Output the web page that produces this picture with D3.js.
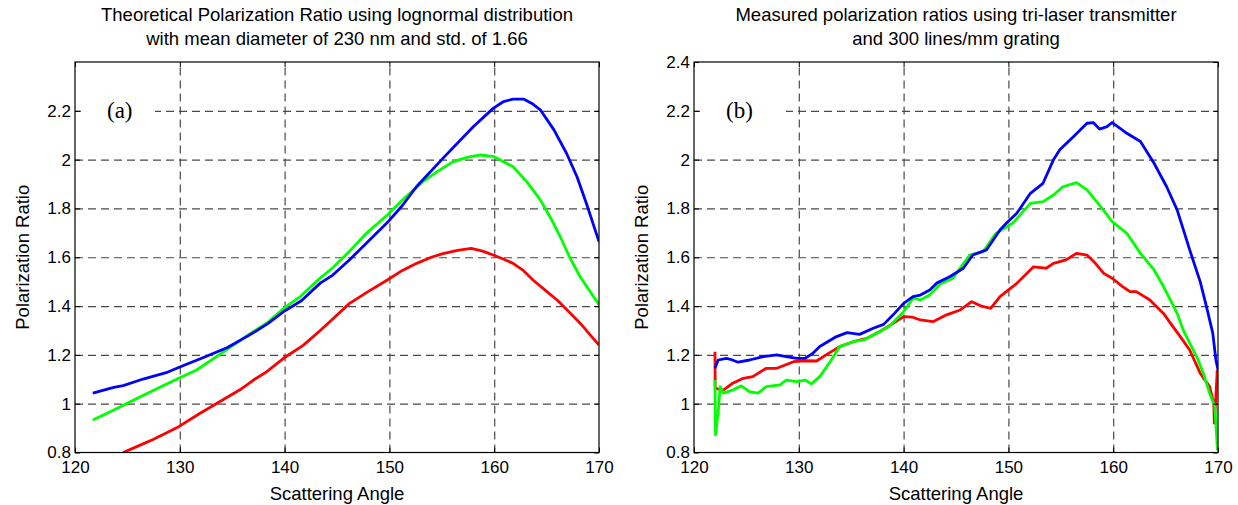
<!DOCTYPE html>
<html>
<head>
  <meta charset="utf-8">
  <style>
    body { margin: 0; background: #fff; }
    svg { display: block; font-family: "Liberation Sans", Arial, sans-serif; }
    .grid line { stroke: #4a4a4a; stroke-width: 1.2; stroke-dasharray: 8,5; }
    .grid path { display: none; }
    .ax path { display: none; }
    .ax line { stroke: #000; stroke-width: 1; }
    .ax text { font-size: 17px; fill: #000; }
  </style>
</head>
<body>
  <div id="chart"></div>
  <script src="https://d3js.org/d3.v7.min.js"></script>
  <script>
    // tick values
    var angleTicks = [120, 130, 140, 150, 160, 170];
    var ratioTicksA = [0.8, 1, 1.2, 1.4, 1.6, 1.8, 2, 2.2];
    var ratioTicksB = [0.8, 1, 1.2, 1.4, 1.6, 1.8, 2, 2.2, 2.4];

    // (a) theoretical curves [angle, ratio]
    var theoryBlue = [[121.7,1.043],[123.7,1.067],[124.6,1.074],[126.5,1.101],[128.7,1.127],[130,1.15],[132.2,1.188],[134.5,1.229],[136.8,1.285],[138.4,1.328],[140,1.38],[141.6,1.422],[143.4,1.494],[144.6,1.527],[146.2,1.59],[147.8,1.657],[149.8,1.742],[151.2,1.81],[152.6,1.89],[155.1,2.005],[158,2.135],[159.9,2.21],[160.9,2.238],[161.8,2.248],[162.8,2.248],[163.6,2.23],[164.4,2.204],[165.7,2.122],[166.9,2.026],[167.9,1.93],[168.8,1.82],[170,1.664]];
    var theoryGreen = [[121.7,0.933],[123.7,0.974],[125.6,1.015],[128.1,1.067],[129.9,1.104],[131.6,1.138],[133.5,1.193],[135.4,1.248],[136.8,1.29],[138.4,1.333],[140,1.394],[141.5,1.439],[143,1.5],[144.7,1.561],[146.2,1.625],[147.8,1.698],[149.8,1.773],[151.5,1.845],[153.2,1.91],[154.7,1.955],[156.1,1.992],[157.5,2.01],[158.7,2.019],[160,2.012],[161.8,1.971],[163.1,1.91],[164.4,1.835],[165.4,1.76],[166.3,1.684],[167.2,1.6],[168.2,1.52],[170,1.405]];
    var theoryRed = [[124.6,0.8],[126,0.826],[127.5,0.854],[129.9,0.906],[131.9,0.96],[133.8,1.008],[135.7,1.056],[137.1,1.099],[138.3,1.131],[139.9,1.186],[141.8,1.24],[143.4,1.3],[144.8,1.355],[146.2,1.411],[148,1.46],[149.8,1.507],[151.2,1.545],[152.6,1.575],[154,1.6],[155.1,1.615],[156.5,1.628],[157.8,1.636],[158.9,1.625],[159.9,1.609],[160.8,1.594],[161.8,1.575],[162.8,1.545],[163.7,1.507],[165,1.46],[166,1.425],[167.1,1.378],[168.2,1.33],[169.1,1.285],[170,1.24]];

    // (b) measured curves [angle, ratio]
    var measBlue = [[122,1.145],[122.3,1.179],[123.1,1.186],[123.6,1.18],[124.2,1.17],[125.3,1.179],[126.6,1.193],[127.9,1.2],[128.8,1.193],[129.8,1.186],[130.6,1.186],[131.3,1.205],[132,1.234],[133.6,1.275],[134.6,1.291],[135.8,1.284],[137.1,1.309],[138.1,1.325],[139,1.364],[140,1.411],[140.9,1.439],[141.6,1.445],[142.5,1.466],[143.2,1.495],[144.4,1.52],[145.7,1.555],[146.6,1.609],[147.9,1.63],[149.2,1.712],[149.8,1.739],[150.8,1.78],[152.1,1.862],[153.3,1.903],[154.3,1.999],[154.9,2.04],[156.2,2.094],[157.5,2.149],[158.1,2.152],[158.7,2.125],[159.4,2.135],[159.9,2.152],[160.6,2.13],[161.3,2.108],[162.6,2.074],[163.9,1.985],[165.1,1.889],[166.1,1.794],[167.3,1.63],[168.3,1.5],[168.9,1.398],[169.5,1.289],[169.8,1.179],[170,1.138]];
    var measGreen = [[122,1.097],[122.05,0.872],[122.3,0.961],[122.5,1.07],[122.8,1.043],[123.7,1.056],[124.5,1.073],[125.3,1.049],[126.1,1.043],[126.9,1.07],[128.2,1.077],[128.8,1.097],[129.8,1.09],[130.6,1.097],[131.2,1.081],[132,1.111],[132.9,1.166],[133.9,1.234],[135.2,1.254],[136.2,1.261],[137.4,1.288],[138.6,1.316],[140,1.377],[140.9,1.432],[141.6,1.425],[142.5,1.445],[143.5,1.49],[144.7,1.514],[146.3,1.609],[147.6,1.623],[148.8,1.698],[150.4,1.739],[152.1,1.821],[153.3,1.828],[154.3,1.855],[155.2,1.889],[156.5,1.906],[157.5,1.876],[158.8,1.807],[159.9,1.746],[161.3,1.698],[162.6,1.616],[163.9,1.548],[164.8,1.48],[165.4,1.43],[166.1,1.37],[166.7,1.3],[167.3,1.248],[168,1.19],[168.6,1.125],[169.2,1.043],[169.7,0.988],[169.95,0.81]];
    var measRed = [[122,1.213],[122.02,1.063],[122.8,1.056],[123.7,1.084],[124.7,1.104],[125.6,1.111],[126.9,1.145],[127.9,1.145],[129.5,1.172],[130.6,1.176],[131.7,1.175],[132.6,1.2],[133.9,1.234],[135.2,1.254],[136.5,1.268],[137.7,1.295],[139,1.329],[140,1.357],[140.8,1.355],[141.6,1.343],[142.8,1.336],[144.1,1.364],[145.4,1.384],[146.5,1.418],[147.4,1.4],[148.3,1.391],[149.2,1.439],[149.8,1.459],[150.8,1.493],[152.4,1.561],[153.6,1.555],[154.3,1.575],[155.5,1.589],[156.5,1.616],[157.5,1.609],[158.3,1.575],[159.1,1.534],[159.9,1.514],[160.9,1.48],[161.6,1.459],[162.2,1.459],[163.5,1.425],[164.8,1.37],[165.7,1.316],[166.4,1.275],[167.3,1.22],[168.3,1.125],[169.2,1.07],[169.6,1.0],[169.65,0.92],[169.8,1.029],[169.93,1.138]];

    var svg = d3.select('#chart')
        .append('svg')
        .attr('width', 1238)
        .attr('height', 505);

    function drawPanel(p) {
      var x = d3.scaleLinear().domain([120, 170]).range([p.left, p.right]);
      var y = d3.scaleLinear().domain([0.8, 2.4]).range([p.bottom, p.top]);
      var w = p.right - p.left, h = p.bottom - p.top;
      var g = svg.append('g');

      // grid
      g.append('g').attr('class', 'grid')
          .attr('transform', 'translate(0,' + p.bottom + ')')
          .call(d3.axisBottom(x).tickValues([130, 140, 150, 160]).tickSize(-h).tickFormat(''));
      g.append('g').attr('class', 'grid')
          .attr('transform', 'translate(' + p.left + ',0)')
          .call(d3.axisLeft(y).tickValues([1, 1.2, 1.4, 1.6, 1.8, 2, 2.2]).tickSize(-w).tickFormat(''));

      // panel label with white box
      g.append('rect')
          .attr('x', p.left + 6).attr('y', y(2.2) - 14)
          .attr('width', p.boxW).attr('height', 28)
          .attr('fill', '#fff');
      g.append('text')
          .attr('x', p.left + 32).attr('y', y(2.2) + 7)
          .attr('font-family', '"Liberation Serif", "Times New Roman", serif')
          .attr('font-size', 23)
          .text(p.tag);

      // curves
      var clipId = 'clip' + p.tag.replace(/\W/g, '');
      svg.append('clipPath').attr('id', clipId)
          .append('rect').attr('x', p.left).attr('y', p.top).attr('width', w).attr('height', h);
      var line = d3.line().x(d => x(d[0])).y(d => y(d[1]));
      var colors = ['#ff0000', '#00ff00', '#0000ff'];
      g.append('g').attr('clip-path', 'url(#' + clipId + ')')
          .selectAll('path')
          .data(p.series)
          .enter().append('path')
          .attr('d', line)
          .attr('fill', 'none')
          .attr('stroke', (d, i) => colors[i])
          .attr('stroke-width', 2.8)
          .attr('stroke-linejoin', 'round');

      // axes (ticks point inward)
      g.append('g').attr('class', 'ax')
          .attr('transform', 'translate(0,' + p.bottom + ')')
          .call(d3.axisBottom(x).tickValues(angleTicks).tickSizeInner(-5).tickSizeOuter(0).tickPadding(8));
      g.append('g').attr('class', 'ax')
          .attr('transform', 'translate(0,' + p.top + ')')
          .call(d3.axisTop(x).tickValues(angleTicks).tickSizeInner(-5).tickSizeOuter(0).tickFormat(''));
      g.append('g').attr('class', 'ax')
          .attr('transform', 'translate(' + p.left + ',0)')
          .call(d3.axisLeft(y).tickValues(p.yTicks).tickSizeInner(-5).tickSizeOuter(0).tickPadding(4).tickFormat(d3.format('~g')));
      g.append('g').attr('class', 'ax')
          .attr('transform', 'translate(' + p.right + ',0)')
          .call(d3.axisRight(y).tickValues(p.yTicks).tickSizeInner(-5).tickSizeOuter(0).tickFormat(''));

      g.append('rect')
          .attr('x', p.left).attr('y', p.top)
          .attr('width', w).attr('height', h)
          .attr('fill', 'none').attr('stroke', '#000').attr('stroke-width', 1.2);

      // titles and axis labels
      var cx = (p.left + p.right) / 2;
      g.append('text').attr('x', cx).attr('y', 21).attr('text-anchor', 'middle')
          .attr('font-size', 18.5).text(p.title[0]);
      g.append('text').attr('x', cx).attr('y', 45).attr('text-anchor', 'middle')
          .attr('font-size', 18.5).text(p.title[1]);
      g.append('text').attr('x', cx).attr('y', 500).attr('text-anchor', 'middle')
          .attr('font-size', 18.5).text('Scattering Angle');
      g.append('text')
          .attr('transform', 'translate(' + (p.left - 46) + ',' + ((p.top + p.bottom) / 2) + ') rotate(-90)')
          .attr('text-anchor', 'middle')
          .attr('font-size', 18.5).text('Polarization Ratio');
    }

    drawPanel({
      left: 75, right: 599, top: 62, bottom: 452.5,
      yTicks: ratioTicksA, tag: '(a)', boxW: 74,
      title: ['Theoretical Polarization Ratio using lognormal distribution',
              'with mean diameter of 230 nm and std. of 1.66'],
      series: [theoryRed, theoryGreen, theoryBlue]
    });
    drawPanel({
      left: 694, right: 1218, top: 62, bottom: 452.5,
      yTicks: ratioTicksB, tag: '(b)', boxW: 86,
      title: ['Measured polarization ratios using tri-laser transmitter',
              'and 300 lines/mm grating'],
      series: [measRed, measGreen, measBlue]
    });
  </script>
</body>
</html>
